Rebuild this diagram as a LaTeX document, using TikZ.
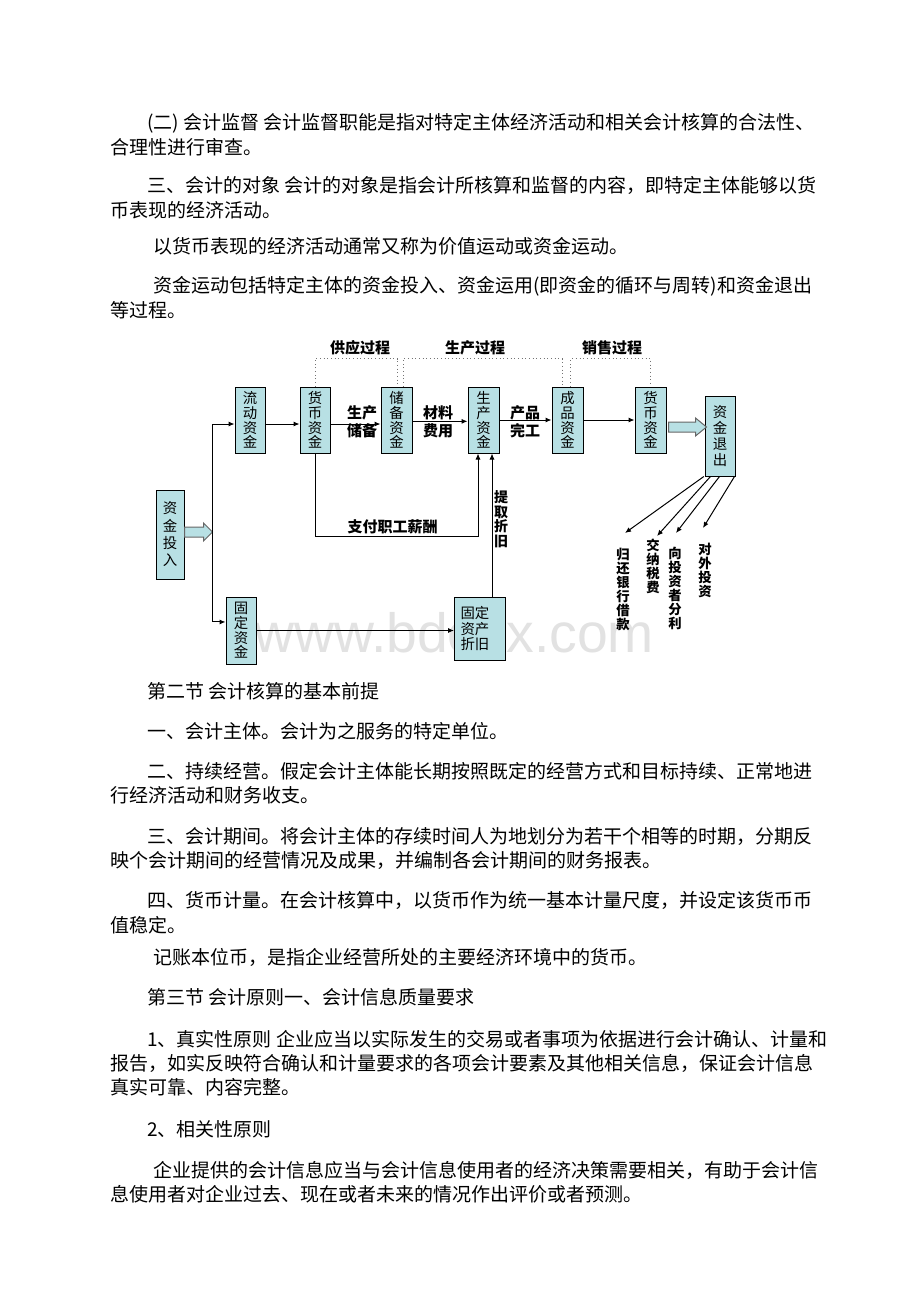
\documentclass[tikz,border=0pt]{standalone}
\usepackage{fontspec}
\setmainfont{Noto Sans CJK SC}
\newfontfamily\wmfont{Liberation Sans}
\usetikzlibrary{arrows.meta,calc}
\definecolor{boxfill}{RGB}{184,224,228}
\definecolor{wmgray}{RGB}{226,226,226}
\begin{document}
\begin{tikzpicture}[x=0.75pt,y=-0.75pt,
  body/.style={anchor=base west, inner sep=0pt, font=\fontsize{14.25}{14.25}\selectfont},
  box/.style={draw=black, fill=boxfill, line width=0.75pt, inner sep=0pt, align=center,
    font=\fontsize{10.8}{11}\selectfont},
  lab/.style={inner sep=0pt, align=center, font=\bfseries\fontsize{11.25}{13.5}\selectfont},
  vlab/.style={inner sep=0pt, align=center, font=\bfseries\fontsize{10}{10.5}\selectfont},
  conn/.style={draw=black, line width=0.75pt},
  arr/.style={conn, -{Latex[length=4.5pt,width=3.8pt]}},
  dots/.style={draw=black!55, dotted, line width=0.75pt},
  hollow/.style={draw=black!60, fill=boxfill, line width=0.75pt}]
\useasboundingbox[fill=white] (0,0) rectangle (920,1302);

% ---------- body text (upper) ----------
\node[body] (t1) at (147,130) {(二) 会计监督 会计监督职能是指对特定主体经济活动和相关会计核算的合法性、};
\node[body] (t2) at (110,155) {合理性进行审查。};
\node[body] (t3) at (147,192) {三、会计的对象 会计的对象是指会计所核算和监督的内容，即特定主体能够以货};
\node[body] (t4) at (110,217) {币表现的经济活动。};
\node[body] (t5) at (153,253) {以货币表现的经济活动通常又称为价值运动或资金运动。};
\node[body] (t6) at (153,292) {资金运动包括特定主体的资金投入、资金运用(即资金的循环与周转)和资金退出};
\node[body] (t7) at (110,317) {等过程。};

% ---------- watermark ----------
\node[anchor=base west, inner sep=0pt, text=wmgray, font=\wmfont\fontsize{41.5}{41.5}\selectfont] (wm) at (254,652) {www.bdocx.com};

% ---------- diagram boxes ----------
\node[box, minimum width=22.5pt, minimum height=49.5pt] (ld) at (250,420) {流\\动\\资\\金};
\node[box, minimum width=22.5pt, minimum height=49.5pt] (hb1) at (315,420) {货\\币\\资\\金};
\node[box, minimum width=23.25pt, minimum height=49.5pt] (cb) at (396.5,420) {储\\备\\资\\金};
\node[box, minimum width=23.25pt, minimum height=49.5pt] (sc) at (483.5,420) {生\\产\\资\\金};
\node[box, minimum width=23.25pt, minimum height=49.5pt] (cp) at (567.5,420) {成\\品\\资\\金};
\node[box, minimum width=23.25pt, minimum height=49.5pt] (hb2) at (650.5,420) {货\\币\\资\\金};
\node[box, minimum width=22.5pt, minimum height=60pt, font=\fontsize{10.8}{12}\selectfont] (tc) at (720,436) {资\\金\\退\\出};
\node[box, minimum width=21pt, minimum height=66.75pt, font=\fontsize{10.8}{13}\selectfont] (tr) at (170,534.5) {资\\金\\投\\入};
\node[box, minimum width=22.5pt, minimum height=50.25pt] (gd) at (241,630.5) {固\\定\\资\\金};
\node[box, align=left, text width=29.25pt, inner xsep=4.5pt, minimum height=47.25pt,
  font=\fontsize{10.8}{11.5}\selectfont] (zj) at (480,628.5) {固定\\资产\\折旧};

% ---------- process brackets ----------
\draw[dots] (hb1.north) -- ++(0,-28) -| ([xshift=1.1pt]cb.north);
\draw[dots] ([xshift=4.9pt]cb.north) -- ++(0,-28) -| ([xshift=-4.1pt]cp.north);
\draw[dots] ([xshift=2.6pt]cp.north) -- ++(0,-28) -| (hb2.north);
\node[lab] (l1) at (360,348) {供应过程};
\node[lab] (l2) at (475,348) {生产过程};
\node[lab] (l3) at (612,348) {销售过程};

% ---------- connectors ----------
\coordinate (sp) at (212,532);
\draw[hollow] ($(tr.east)+(0,-7.5)$) -- ++(19,0) -- ++(0,-4) -- ++(9,9) -- ++(-9,9) -- ++(0,-4) -- ++(-19,0) -- cycle;
\draw[arr] (sp) |- ([yshift=-3pt]ld.west);
\draw[arr] (sp) |- ([yshift=6.4pt]gd.west);
\draw[arr] ([yshift=-3pt]ld.east) -- ([yshift=-3pt]hb1.west);
\draw[arr] ([yshift=-3pt]hb1.east) -- ([yshift=-3pt]cb.west);
\draw[arr] ([yshift=-1pt]cb.east) -- ([yshift=-1pt]sc.west);
\draw[arr] (sc.east) -- (cp.west);
\draw[arr] (cp.east) -- (hb2.west);
\draw[hollow] ($(hb2.east)+(2,2)$) -- ++(27,0) -- ++(0,-4) -- ++(11,9) -- ++(-11,9) -- ++(0,-4) -- ++(-27,0) -- cycle;

\node[lab] (a1) at (362,422) {生产\\储备};
\node[lab] (a2) at (438,422) {材料\\费用};
\node[lab] (a3) at (525,422) {产品\\完工};

\coordinate (pay) at (478,536);
\draw[arr] (hb1.south) |- (pay) -- (pay |- sc.south);
\node[lab] (a4) at (392.5,527) {支付职工薪酬};

\draw[arr] (gd.east) -- (gd.east -| zj.west);
\draw[arr] ([xshift=9pt]zj.north) -- ([xshift=9pt]zj.north |- sc.south);
\node[vlab, font=\bfseries\fontsize{10.5}{10.9}\selectfont] (a5) at (501,519) {提\\取\\折\\旧};

% ---------- outflows ----------
\coordinate (f1) at (625,533);
\coordinate (f2) at (657,536);
\coordinate (f3) at (676,533);
\coordinate (f4) at (703,528);
\draw[arr] ([xshift=-0.5pt]tc.south west) -- (f1);
\draw[arr] ($(tc.south west)+(6,0)$) -- (f2);
\draw[arr] ($(tc.south west)+(15,0)$) -- (f3);
\draw[arr] ($(tc.south east)+(-1,0)$) -- (f4);
\node[vlab] (o1) at (623,589) {归\\还\\银\\行\\借\\款};
\node[vlab] (o2) at (653,566) {交\\纳\\税\\费};
\node[vlab] (o3) at (675,588) {向\\投\\资\\者\\分\\利};
\node[vlab] (o4) at (705,570) {对\\外\\投\\资};

% ---------- body text (lower) ----------
\node[body] (u1) at (147,698) {第二节 会计核算的基本前提};
\node[body] (u2) at (147,738) {一、会计主体。会计为之服务的特定单位。};
\node[body] (u3) at (147,778) {二、持续经营。假定会计主体能长期按照既定的经营方式和目标持续、正常地进};
\node[body] (u4) at (110,802) {行经济活动和财务收支。};
\node[body] (u5) at (147,843) {三、会计期间。将会计主体的存续时间人为地划分为若干个相等的时期，分期反};
\node[body] (u6) at (110,867) {映个会计期间的经营情况及成果，并编制各会计期间的财务报表。};
\node[body] (u7) at (147,907) {四、货币计量。在会计核算中，以货币作为统一基本计量尺度，并设定该货币币};
\node[body] (u8) at (110,932) {值稳定。};
\node[body] (u9) at (153,964) {记账本位币，是指企业经营所处的主要经济环境中的货币。};
\node[body] (u10) at (147,1004) {第三节 会计原则一、会计信息质量要求};
\node[body] (u11) at (147,1046) {1、真实性原则 企业应当以实际发生的交易或者事项为依据进行会计确认、计量和};
\node[body] (u12) at (110,1070) {报告，如实反映符合确认和计量要求的各项会计要素及其他相关信息，保证会计信息};
\node[body] (u13) at (110,1094) {真实可靠、内容完整。};
\node[body] (u14) at (147,1136) {2、相关性原则};
\node[body] (u15) at (153,1177) {企业提供的会计信息应当与会计信息使用者的经济决策需要相关，有助于会计信};
\node[body] (u16) at (110,1201) {息使用者对企业过去、现在或者未来的情况作出评价或者预测。};
\end{tikzpicture}
\end{document}
